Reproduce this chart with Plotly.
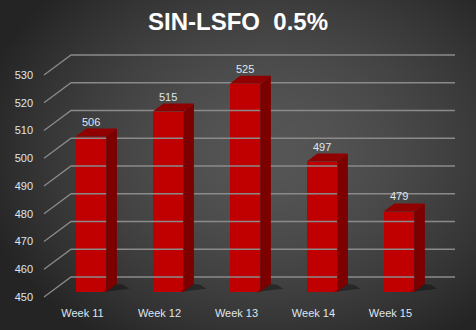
import base64, struct, zlib
import numpy as np
import plotly.graph_objects as go

# ---- data ----
categories = ["Week 11", "Week 12", "Week 13", "Week 14", "Week 15"]
values = [506, 515, 525, 497, 479]
y_ticks = [450, 460, 470, 480, 490, 500, 510, 520, 530]
title_text = "SIN-LSFO  0.5%"

# ---- geometry (3D look) ----
W, H = 476, 330
ML, MR, MT, MB = 40, 16, 45, 25
floor_v = 450
bar_shift_x, bar_shift_y = 0.11, 1.8      # bar front plane offset
bar_half = 0.198
depth_x, depth_y = 0.139, 2.9            # bar depth
wall_x0, wall_x1, wall_dy = -0.149, 4.838, 7.2
front_x = -0.5

# ---- background radial gradient image ----
def make_png(arr):
    h, w, _ = arr.shape
    raw = b"".join(b"\x00" + arr[r].tobytes() for r in range(h))
    def chunk(t, d):
        c = struct.pack(">I", len(d)) + t + d
        return c + struct.pack(">I", zlib.crc32(t + d) & 0xffffffff)
    return (b"\x89PNG\r\n\x1a\n" + chunk(b"IHDR", struct.pack(">IIBBBBB", w, h, 8, 2, 0, 0, 0))
            + chunk(b"IDAT", zlib.compress(raw, 9)) + chunk(b"IEND", b""))

yy, xx = np.mgrid[0:H, 0:W]
cx, cy = 270, 150
r = np.sqrt(((xx - cx) / 300.0) ** 2 + ((yy - cy) / 230.0) ** 2)
r = np.clip(r, 0, 1)
g = 0x24 + (0x56 - 0x24) * (1 - r ** 1.6)
img = np.repeat(g[:, :, None], 3, axis=2).astype(np.uint8)
src = "data:image/png;base64," + base64.b64encode(make_png(img)).decode()

pw, ph = W - ML - MR, H - MT - MB

fig = go.Figure()

# back wall gridlines + left diagonals
gx, gy = [], []
for v in y_ticks:
    gx += [front_x, wall_x0, wall_x1, None]
    gy += [v, v + wall_dy, v + wall_dy, None]
fig.add_trace(go.Scatter(x=gx, y=gy, mode="lines", line=dict(color="#8a8a8a", width=1.3),
                         hoverinfo="skip", showlegend=False))

base_y = floor_v + bar_shift_y
for i, v in enumerate(values):
    c = i + bar_shift_x
    xl, xr = c - bar_half, c + bar_half
    top = v + bar_shift_y
    # shadow
    fig.add_trace(go.Scatter(x=[xr - 0.05, xr + 0.3, xr + 0.22, xr + depth_x, xr - 0.05],
                             y=[base_y, base_y + 1.2, base_y + 2.6, base_y + depth_y, base_y],
                             fill="toself", fillcolor="rgba(0,0,0,0.35)", line=dict(width=0),
                             mode="lines", hoverinfo="skip", showlegend=False))
    # side face
    fig.add_trace(go.Scatter(x=[xr, xr + depth_x, xr + depth_x, xr, xr],
                             y=[base_y, base_y + depth_y, top + depth_y, top, base_y],
                             fill="toself", fillcolor="#7d0000", line=dict(width=0),
                             mode="lines", hoverinfo="skip", showlegend=False))
    # top face
    fig.add_trace(go.Scatter(x=[xl, xr, xr + depth_x, xl + depth_x, xl],
                             y=[top, top, top + depth_y, top + depth_y, top],
                             fill="toself", fillcolor="#910000", line=dict(width=0),
                             mode="lines", hoverinfo="skip", showlegend=False))

# front faces
fig.add_trace(go.Bar(x=[i + bar_shift_x for i in range(len(values))],
                     y=[v - floor_v for v in values], base=base_y,
                     width=2 * bar_half, marker=dict(color="#c00000", line=dict(width=0)),
                     showlegend=False, hoverinfo="skip"))

for i, v in enumerate(values):
    fig.add_annotation(x=i + bar_shift_x, y=v + bar_shift_y + depth_y, text=str(v),
                       showarrow=False, yanchor="bottom", yshift=-1,
                       font=dict(family="Liberation Sans, Arial", size=11, color="#dfe6f0"))

fig.update_layout(
    width=W, height=H,
    margin=dict(l=ML, r=MR, t=MT, b=MB),
    paper_bgcolor="#262626", plot_bgcolor="rgba(0,0,0,0)",
    images=[dict(source=src, xref="paper", yref="paper", x=-ML / pw, y=1 + MT / ph,
                 sizex=W / pw, sizey=H / ph, xanchor="left", yanchor="top",
                 sizing="stretch", layer="below")],
    title=dict(text="<b>" + title_text + "</b>", x=0.5, xanchor="center",
               y=1 - 22 / H, yanchor="middle", yref="container",
               font=dict(family="Liberation Sans, Arial", size=24, color="#ffffff")),
    xaxis=dict(range=[-0.552, 4.903], tickvals=list(range(len(categories))), ticktext=categories,
               showgrid=False, zeroline=False, showline=False, ticks="",
               tickfont=dict(family="Liberation Sans, Arial", size=11, color="#dfe6f0")),
    yaxis=dict(range=[447.12, 540.8], tickvals=y_ticks, showgrid=False, zeroline=False,
               showline=False, ticks="", ticklabelstandoff=6,
               tickfont=dict(family="Liberation Sans, Arial", size=11, color="#dfe6f0")),
    bargap=0,
)

fig.write_html("out.html")
